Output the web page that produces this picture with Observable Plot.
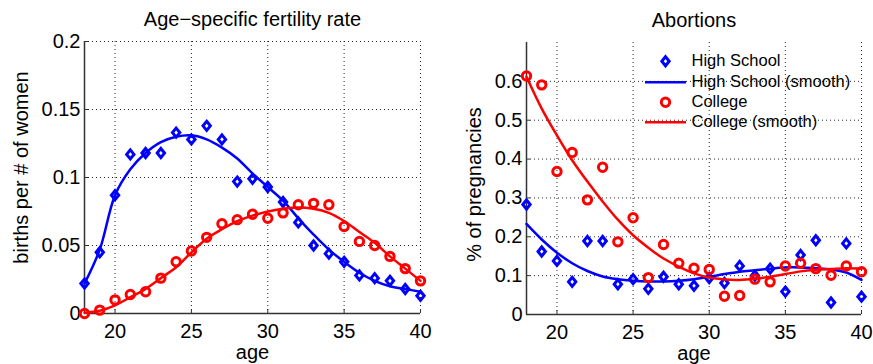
<!DOCTYPE html>
<html><head><meta charset="utf-8">
<script src="https://cdn.jsdelivr.net/npm/d3@7"></script>
<script src="https://cdn.jsdelivr.net/npm/@observablehq/plot@0.6"></script>
<style>
body{margin:0;background:#fff;}
#wrap{position:relative;width:873px;height:364px;overflow:hidden;background:#fff;}
#wrap svg{position:absolute;top:0;}
</style></head><body><div id="wrap"></div>
<script>
// ---- data ----
const ages = [18,19,20,21,22,23,24,25,26,27,28,29,30,31,32,33,34,35,36,37,38,39,40];
const xTicks = [20,25,30,35,40];

const fertTitle = "Age\u2212specific fertility rate";
const fertYLabel = "births per # of women";
const fertYTicks = [0,0.05,0.1,0.15,0.2];
const fertHS = [0.022,0.045,0.087,0.117,0.118,0.118,0.133,0.128,0.138,0.128,0.097,0.099,0.093,0.082,0.067,0.050,0.044,0.038,0.028,0.026,0.024,0.018,0.013];
const fertHSSmooth = [0.022,0.047,0.087,0.106,0.118,0.126,0.130,0.131,0.128,0.122,0.114,0.103,0.093,0.083,0.070,0.058,0.047,0.038,0.030,0.024,0.020,0.018,0.016];
const fertCol = [0.000,0.0025,0.010,0.014,0.016,0.026,0.038,0.046,0.056,0.066,0.069,0.073,0.070,0.074,0.080,0.081,0.080,0.064,0.053,0.050,0.042,0.033,0.024];
const fertColSmooth = [0.0005,0.002,0.006,0.012,0.018,0.026,0.034,0.045,0.055,0.062,0.068,0.072,0.075,0.077,0.078,0.077,0.074,0.068,0.060,0.052,0.042,0.033,0.024];

const abTitle = "Abortions";
const abYLabel = "% of pregnancies";
const abYTicks = [0,0.1,0.2,0.3,0.4,0.5,0.6];
const abHS = [0.283,0.162,0.138,0.084,0.189,0.189,0.078,0.091,0.066,0.097,0.078,0.074,0.094,0.081,0.125,0.100,0.118,0.059,0.153,0.191,0.031,0.183,0.046];
const abHSSmooth = [0.233,0.193,0.159,0.132,0.112,0.098,0.091,0.087,0.085,0.085,0.087,0.091,0.097,0.104,0.110,0.114,0.118,0.121,0.121,0.119,0.116,0.108,0.089];
const abCol = [0.614,0.591,0.368,0.417,0.295,0.379,0.187,0.249,0.095,0.180,0.132,0.119,0.116,0.047,0.049,0.091,0.084,0.125,0.132,0.118,0.101,0.125,0.110];
const abColSmooth = [0.612,0.530,0.461,0.397,0.342,0.291,0.244,0.204,0.172,0.144,0.123,0.106,0.095,0.090,0.089,0.092,0.097,0.104,0.111,0.115,0.117,0.119,0.118];

const legendLabels = ["High School","High School (smooth)","College","College (smooth)"];
const xLabel = "age";

// ---- styling ----
const FONT = "'Liberation Sans', Arial, Helvetica, sans-serif";
const BLUE = "#0000ff", RED = "#ff0000", AXIS = "#333333";
const H = 364;

const diamondSym = {draw(ctx, size){ const r = Math.sqrt(size/Math.PI); const hy = r*1.3, hx = r*1.05;
  ctx.moveTo(0,-hy); ctx.lineTo(hx,0); ctx.lineTo(0,hy); ctx.lineTo(-hx,0); ctx.closePath(); }};
const hlineSym = {draw(ctx, size){ ctx.moveTo(-20.5,0); ctx.lineTo(20.5,0); }};

function panel(o) {
  const plotH = H - o.mt - o.mb, plotW = o.width - o.ml - o.mr;
  const rows = v => ages.map((a,i) => ({age:a, v:v[i]}));
  const grid = {stroke:"#000", strokeOpacity:0.85, strokeDasharray:"1,3", strokeWidth:1};
  const txt = {text:d=>d, fill:"#000", textAnchor:"middle", lineAnchor:"middle"};
  const marks = [
    Plot.gridX(xTicks, grid),
    Plot.gridY(o.yTicks.filter(t => t > 0), grid),
    Plot.tickX(xTicks, {x:d=>d, stroke:AXIS, strokeWidth:1, insetTop: plotH-4}),
    Plot.tickY(o.yTicks, {y:d=>d, stroke:AXIS, strokeWidth:1, insetRight: plotW-4}),
    Plot.ruleX([18], {stroke:AXIS, strokeWidth:1.5}),
    Plot.ruleY([0], {stroke:AXIS, strokeWidth:1.5}),
    Plot.axisX({ticks:xTicks, tickSize:0, tickPadding:10, fontSize:20, label:null, fill:"#000"}),
    Plot.axisY({ticks:o.yTicks, tickSize:0, tickPadding:4, fontSize:20, label:null, fill:"#000", tickFormat:d=>String(d)}),
    Plot.dot(rows(o.hs), {x:"age", y:"v", symbol:diamondSym, r:3.5, stroke:BLUE, strokeWidth:3, fill:"none"}),
    Plot.line(rows(o.hsS), {x:"age", y:"v", stroke:BLUE, strokeWidth:2.5, curve:"catmull-rom"}),
    Plot.dot(rows(o.col), {x:"age", y:"v", r:4.2, stroke:RED, strokeWidth:3, fill:"none"}),
    Plot.line(rows(o.colS), {x:"age", y:"v", stroke:RED, strokeWidth:2.5, curve:"catmull-rom"}),
    Plot.text([o.title], {...txt, frameAnchor:"top", dy:-22.4, fontSize:20}),
    Plot.text([xLabel], {...txt, frameAnchor:"bottom", dy:39, fontSize:20}),
    Plot.text([o.ylabel], {...txt, frameAnchor:"left", dx:o.ylDx, dy:o.ylDy, rotate:-90, fontSize:20})
  ];
  if (o.legend) {
    const L = o.legend, rowsY = [18.7, 39.7, 59.7, 79.7];
    marks.push(
      Plot.dot([0], {frameAnchor:"top-left", dx:L.sx, dy:rowsY[0], symbol:diamondSym, r:3.5, stroke:BLUE, strokeWidth:3, fill:"none"}),
      Plot.dot([0], {frameAnchor:"top-left", dx:L.sx, dy:rowsY[1], symbol:hlineSym, r:3, stroke:BLUE, strokeWidth:2.5, fill:"none"}),
      Plot.dot([0], {frameAnchor:"top-left", dx:L.sx, dy:rowsY[2], r:4.2, stroke:RED, strokeWidth:3, fill:"none"}),
      Plot.dot([0], {frameAnchor:"top-left", dx:L.sx, dy:rowsY[3], symbol:hlineSym, r:3, stroke:RED, strokeWidth:2.5, fill:"none"})
    );
    legendLabels.forEach((lab, i) => marks.push(
      Plot.text([lab], {...txt, frameAnchor:"top-left", dx:L.tx, dy:rowsY[i], textAnchor:"start", fontSize:16.5})
    ));
  }
  return Plot.plot({
    width:o.width, height:H, marginLeft:o.ml, marginRight:o.mr, marginTop:o.mt, marginBottom:o.mb,
    x:{domain:[18,40]}, y:{domain:o.yDomain},
    style:{fontFamily:FONT, fontSize:"20px", background:"transparent", color:"#000"},
    marks
  });
}

const left = panel({width:436, ml:84, mr:16, mt:41, mb:51, yDomain:[0,0.2], yTicks:fertYTicks,
  title:fertTitle, ylabel:fertYLabel, ylDx:-63, ylDy:-10,
  hs:fertHS, hsS:fertHSSmooth, col:fertCol, colS:fertColSmooth});
const right = panel({width:437, ml:90, mr:12, mt:42, mb:50, yDomain:[0,0.7], yTicks:abYTicks,
  title:abTitle, ylabel:abYLabel, ylDx:-52, ylDy:6,
  hs:abHS, hsS:abHSSmooth, col:abCol, colS:abColSmooth, legend:{sx:139, tx:165}});
left.style.left = "0px";
right.style.left = "436px";
const wrap = document.getElementById("wrap");
wrap.appendChild(left);
wrap.appendChild(right);
</script>
</body></html>
